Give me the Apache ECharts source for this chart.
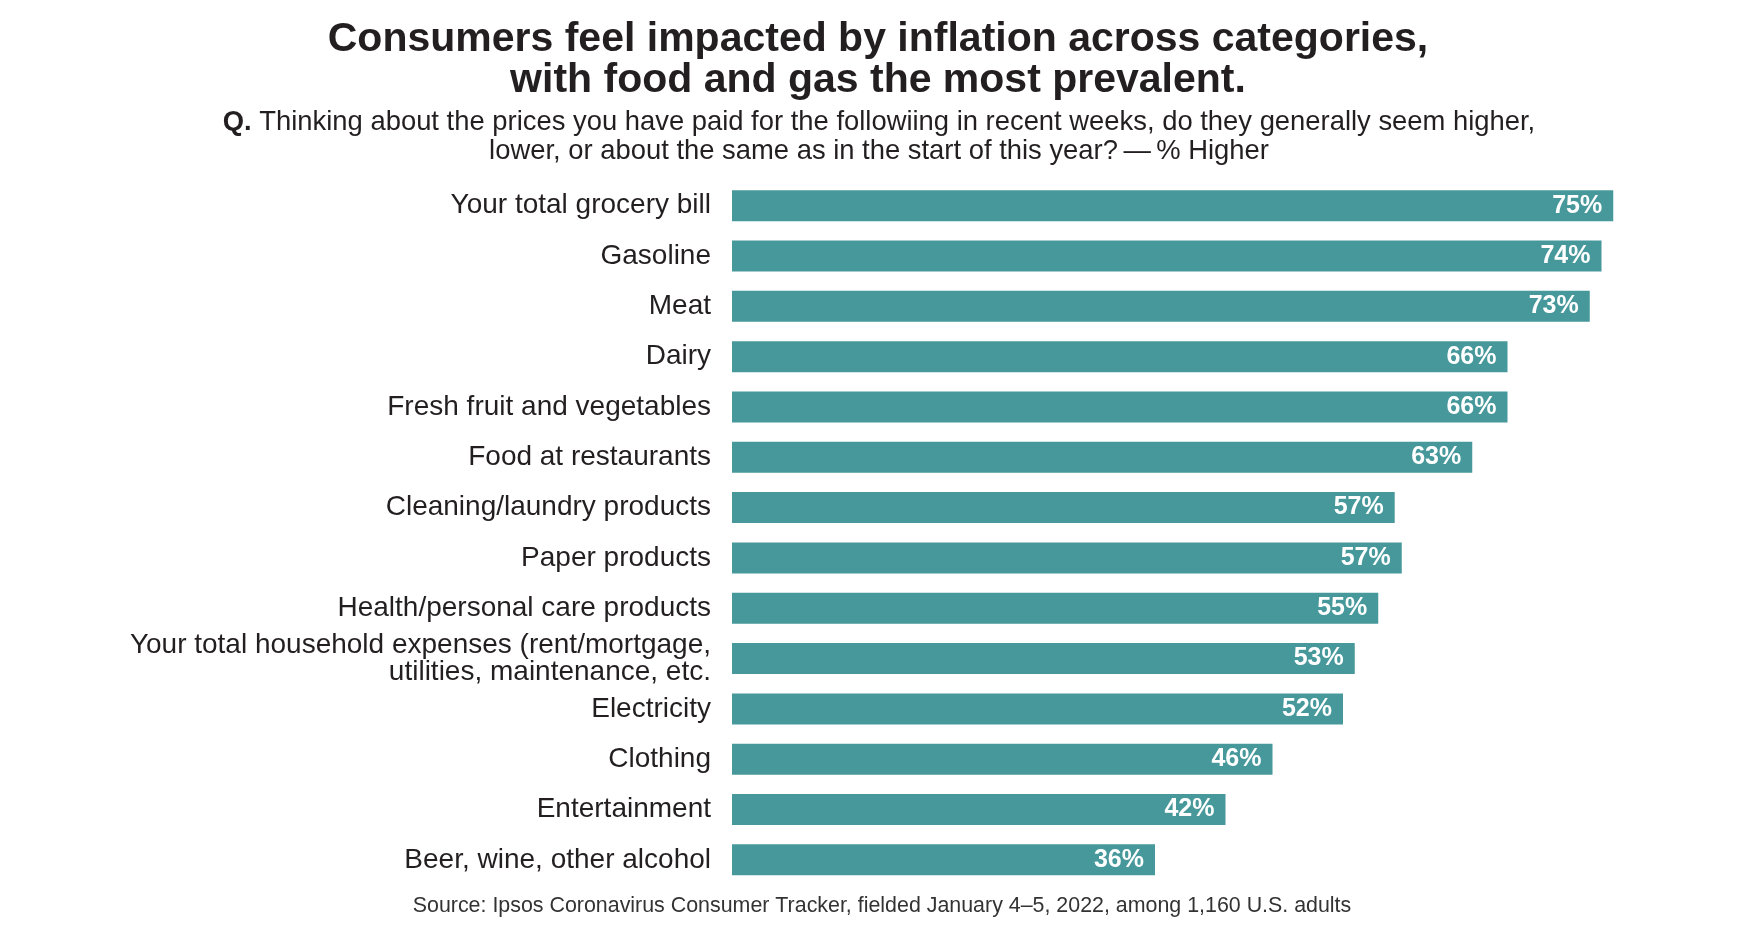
<!DOCTYPE html>
<html>
<head>
<meta charset="utf-8">
<title>Inflation by category</title>
<script src="https://cdn.jsdelivr.net/npm/echarts@6/dist/echarts.min.js"></script>
<style>
    html, body { margin: 0; padding: 0; background: #fff; }
    #chart { width: 1756px; height: 934px; }
</style>
</head>
<body>
<div id="chart"></div>
<script>
    // categories top to bottom
    var categories = [
        'Your total grocery bill',
        'Gasoline',
        'Meat',
        'Dairy',
        'Fresh fruit and vegetables',
        'Food at restaurants',
        'Cleaning/laundry products',
        'Paper products',
        'Health/personal care products',
        'Your total household expenses (rent/mortgage,\nutilities, maintenance, etc.',
        'Electricity',
        'Clothing',
        'Entertainment',
        'Beer, wine, other alcohol'
    ];
    // bar lengths (% saying higher)
    var values = [75, 74, 73, 66, 66, 63, 56.4, 57, 55, 53, 52, 46, 42, 36];
    // the printed labels
    var shownLabels = ['75%', '74%', '73%', '66%', '66%', '63%', '57%', '57%', '55%', '53%', '52%', '46%', '42%', '36%'];

    var font = 'Liberation Sans, Arial, Helvetica, sans-serif';
    var ink = '#231f20';
    var midX = 878;

    var chart = echarts.init(document.getElementById('chart'));
    var option = {
        backgroundColor: '#ffffff',
        animation: false,
        graphic: [{
            type: 'text',
            x: midX,
            y: 19.5,
            style: {
                text: 'Consumers feel impacted by inflation across categories,\nwith food and gas the most prevalent.',
                align: 'center',
                verticalAlign: 'top',
                font: 'bold 41px ' + font,
                lineHeight: 41,
                fill: ink
            }
        }, {
            type: 'text',
            x: midX + 1,
            y: 107.5,
            style: {
                text: '{b|Q.} Thinking about the prices you have paid for the followiing in recent weeks, do they generally seem higher,\nlower, or about the same as in the start of this year?\u2009\u2014\u2009% Higher',
                align: 'center',
                verticalAlign: 'top',
                font: '27.4px ' + font,
                lineHeight: 29.5,
                fill: ink,
                rich: {
                    b: {
                        font: 'bold 27.4px ' + font,
                        lineHeight: 29.5,
                        fill: ink
                    }
                }
            }
        }, {
            type: 'text',
            x: 882,
            y: 906,
            style: {
                text: 'Source: Ipsos Coronavirus Consumer Tracker, fielded January 4\u20135, 2022, among 1,160 U.S. adults',
                align: 'center',
                verticalAlign: 'middle',
                font: '21.4px ' + font,
                fill: '#333333'
            }
        }],
        grid: {
            left: 732,
            right: 25.25,
            top: 180.5,
            bottom: 49,
            containLabel: false
        },
        xAxis: {
            type: 'value',
            min: 0,
            max: 85,
            show: false
        },
        yAxis: {
            type: 'category',
            inverse: true,
            data: categories,
            axisLine: {show: false},
            axisTick: {show: false},
            splitLine: {show: false},
            axisLabel: {
                margin: 21,
                fontFamily: font,
                fontSize: 28,
                lineHeight: 27,
                color: ink,
                align: 'right'
            }
        },
        series: [{
            type: 'bar',
            data: values,
            barWidth: 31,
            itemStyle: {color: '#46989b'},
            label: {
                show: true,
                position: 'insideRight',
                distance: 11,
                fontFamily: font,
                fontSize: 25,
                fontWeight: 'bold',
                color: '#ffffff',
                formatter: function (p) {
                    return shownLabels[p.dataIndex];
                }
            }
        }]
    };
    chart.setOption(option);
</script>
</body>
</html>
